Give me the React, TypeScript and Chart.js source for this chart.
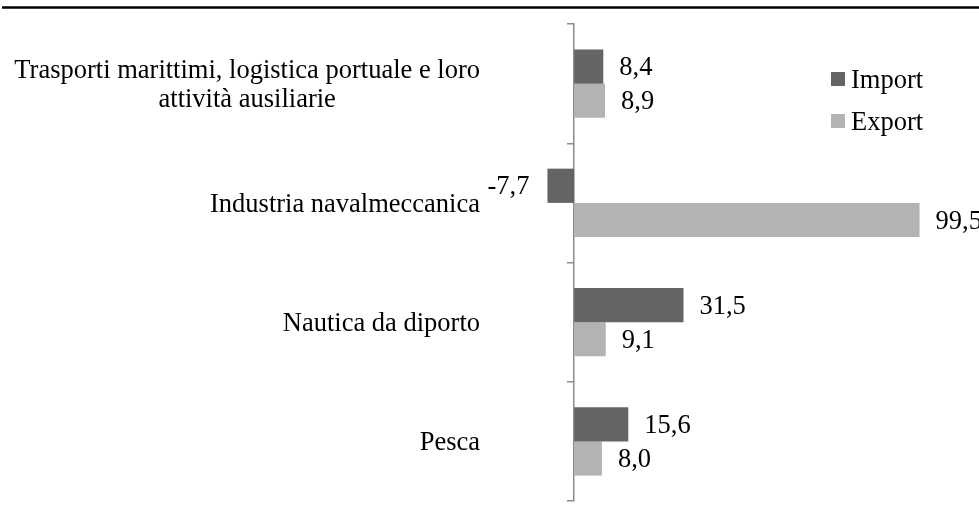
import React, { useEffect, useRef } from "react";
import { Chart, registerables } from "chart.js";

Chart.register(...registerables);

const categories: string[][] = [
  ["Trasporti marittimi, logistica portuale e loro", "attività ausiliarie"],
  ["Industria navalmeccanica"],
  ["Nautica da diporto"],
  ["Pesca"],
];
const importValues: number[] = [8.4, -7.7, 31.5, 15.6];
const exportValues: number[] = [8.9, 99.5, 9.1, 8.0];
const seriesLabels: string[] = ["Import", "Export"];

const FONT = "26.5px 'Liberation Serif', 'Times New Roman', serif";
const IMPORT_COLOR = "#646464";
const EXPORT_COLOR = "#b3b3b3";
const AXIS_COLOR = "#8c8c8c";

const fmt = (v: number) => v.toFixed(1).replace(".", ",");

const decorPlugin = {
  id: "decor",
  afterDatasetsDraw(chart: any) {
    const ctx = chart.ctx as CanvasRenderingContext2D;
    ctx.save();
    ctx.font = FONT;
    ctx.fillStyle = "#000";
    ctx.textBaseline = "alphabetic";

    // top rule
    ctx.strokeStyle = "#000";
    ctx.lineWidth = 2.5;
    ctx.beginPath();
    ctx.moveTo(2, 7.5);
    ctx.lineTo(979, 7.5);
    ctx.stroke();

    // category labels
    const yScale = chart.scales.y;
    const rightEdge = 480;
    const lineH = 29.4;
    const capShift = 8.7;
    categories.forEach((lines, i) => {
      const cy = yScale.getPixelForValue(i);
      const widths = lines.map((l) => ctx.measureText(l).width);
      const maxW = Math.max(...widths);
      const cx = rightEdge - maxW / 2;
      ctx.textAlign = "center";
      lines.forEach((l, k) => {
        const by = cy + capShift + (k - (lines.length - 1) / 2) * lineH;
        ctx.fillText(l, cx, by);
      });
    });

    // data labels
    chart.data.datasets.forEach((ds: any, di: number) => {
      const meta = chart.getDatasetMeta(di);
      meta.data.forEach((el: any, j: number) => {
        const v = ds.data[j] as number;
        const txt = fmt(v);
        if (v >= 0) {
          ctx.textAlign = "left";
          ctx.fillText(txt, el.x + 16, el.y + 8.6);
        } else {
          ctx.textAlign = "right";
          ctx.fillText(txt, el.x - 18, el.y + 8.6);
        }
      });
    });

    // legend
    const legendX = 831;
    const legendY0 = 79;
    const legendStep = 42;
    chart.data.datasets.forEach((ds: any, di: number) => {
      const cy = legendY0 + di * legendStep;
      ctx.fillStyle = ds.backgroundColor;
      ctx.fillRect(legendX, cy - 7, 14, 14);
      ctx.fillStyle = "#000";
      ctx.textAlign = "left";
      ctx.fillText(ds.label, legendX + 20, cy + 8.6);
    });

    ctx.restore();
  },
};

export default function App() {
  const ref = useRef<HTMLCanvasElement | null>(null);

  useEffect(() => {
    if (!ref.current) return;
    const chart = new Chart(ref.current, {
      type: "bar",
      data: {
        labels: categories.map((c) => c.join(" ")),
        datasets: [
          {
            label: seriesLabels[0],
            data: importValues,
            backgroundColor: IMPORT_COLOR,
            borderWidth: 0,
            categoryPercentage: 0.574,
            barPercentage: 1,
          },
          {
            label: seriesLabels[1],
            data: exportValues,
            backgroundColor: EXPORT_COLOR,
            borderWidth: 0,
            categoryPercentage: 0.574,
            barPercentage: 1,
          },
        ],
      },
      options: {
        indexAxis: "y",
        responsive: false,
        animation: false,
        devicePixelRatio: 1,
        layout: { padding: { left: 470, right: 23, top: 24, bottom: 8 } },
        plugins: {
          legend: { display: false },
          tooltip: { enabled: false },
          title: { display: false },
        },
        scales: {
          x: {
            display: false,
            min: -30,
            max: 110,
          },
          y: {
            position: { x: 0 } as any,
            offset: true,
            afterFit: (s: any) => {
              s.width = 0;
            },
            ticks: { display: false },
            grid: {
              offset: true,
              drawOnChartArea: false,
              drawTicks: true,
              tickLength: 6,
              color: AXIS_COLOR,
              lineWidth: 1.5,
            },
            border: { display: true, color: AXIS_COLOR, width: 1.5 },
          },
        },
      },
      plugins: [decorPlugin],
    });
    return () => chart.destroy();
  }, []);

  return (
    <div style={{ position: "absolute", left: 0, top: 0, width: 979, height: 509, background: "#fff" }}>
      <canvas ref={ref} width={979} height={509} />
    </div>
  );
}
